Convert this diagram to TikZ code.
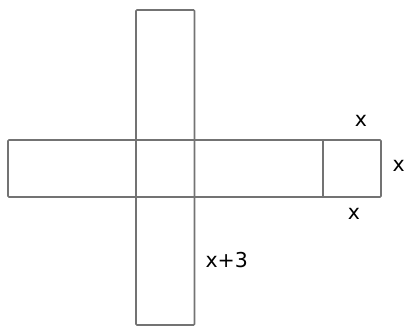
\documentclass[tikz,border=0pt]{standalone}
\usepackage{fontspec}
\setmainfont{DejaVu Sans}
\begin{document}
\begin{tikzpicture}[x=1pt,y=-1pt,
  edge/.style={draw=black!55,line width=1.7pt,rounded corners=1pt},
  lab/.style={inner sep=0pt,font=\fontsize{20.5}{24}\selectfont,text=black}]
\useasboundingbox (0,0) rectangle (410,326);
% vertical strip
\draw[edge] (136,10) rectangle (194.5,325);
% horizontal strip
\draw[edge] (8,140) rectangle (381,197);
\draw[edge] (322.7,140) -- (322.7,197);
% labels
\node[lab] (xt) at (361,120.5) {x};
\node[lab] (xr) at (398.7,166) {x};
\node[lab] (xb) at (354,214) {x};
\node[lab] (x3) at (226.7,260.5) {x+3};
\end{tikzpicture}
\end{document}
